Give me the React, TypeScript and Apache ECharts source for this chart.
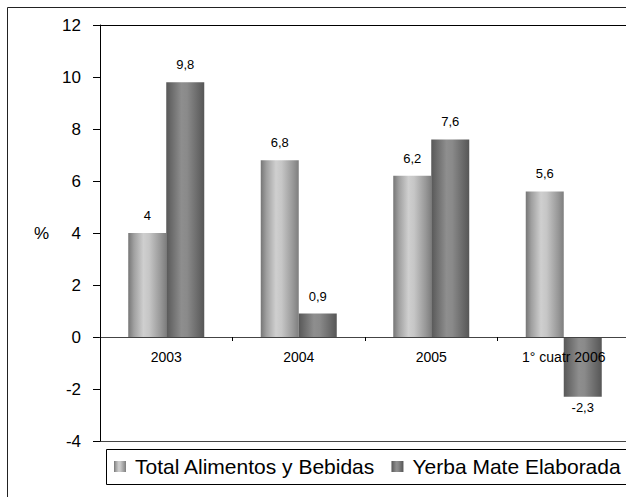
import React, { useEffect, useRef } from "react";
import * as echarts from "echarts";

const categories = ["2003", "2004", "2005", "1° cuatr 2006"];
const totalAlimentos = [4, 6.8, 6.2, 5.6];
const yerbaMate = [9.8, 0.9, 7.6, -2.3];
const seriesNames = ["Total Alimentos y Bebidas", "Yerba Mate Elaborada"];

const FONT = "'Liberation Sans', Arial, sans-serif";

const fmt = (v: number) => String(v).replace(".", ",");

const lightGrad = () =>
  new echarts.graphic.LinearGradient(0, 0, 1, 0, [
    { offset: 0, color: "#767676" },
    { offset: 0.15, color: "#a0a0a0" },
    { offset: 0.4, color: "#cfcfcf" },
    { offset: 0.55, color: "#c6c6c6" },
    { offset: 0.85, color: "#989898" },
    { offset: 1, color: "#7e7e7e" },
  ]);

const darkGrad = () =>
  new echarts.graphic.LinearGradient(0, 0, 1, 0, [
    { offset: 0, color: "#585858" },
    { offset: 0.4, color: "#8e8e8e" },
    { offset: 0.55, color: "#8a8a8a" },
    { offset: 1, color: "#565656" },
  ]);

const makeData = (vals: number[]) =>
  vals.map((v) => ({
    value: v,
    label: { distance: v < 0 ? 4 : 11 },
  }));

const CHART_W = 640;
const CHART_H = 497;
const GRID_LEFT = 100;
const GRID_RIGHT_EDGE = 630;
const GRID_TOP = 25;
const GRID_BOTTOM = 56;
const Y_MIN = -4;
const Y_MAX = 12;
const LEGEND_LEFT = 106;
const LEGEND_TOP = 449;
const LEGEND_H = 35;

export default function App() {
  const ref = useRef<HTMLDivElement>(null);
  useEffect(() => {
    if (!ref.current) return;
    const chart = echarts.init(ref.current, null, { renderer: "svg" });
    const plotH = CHART_H - GRID_TOP - GRID_BOTTOM;
    const zeroOffset = -(plotH * (0 - Y_MIN)) / (Y_MAX - Y_MIN);
    const plotBottomY = CHART_H - GRID_BOTTOM;
    const labelCfg = {
      show: true,
      position: "outside",
      fontSize: 13,
      color: "#000",
      fontFamily: FONT,
      formatter: (p: any) => fmt(p.value),
    };
    chart.setOption({
      animation: false,
      backgroundColor: "#fff",
      textStyle: { fontFamily: FONT },
      graphic: [
        {
          type: "polyline",
          shape: { points: [[7.5, 900], [7.5, 7.5], [900, 7.5]] },
          style: { fill: "none", stroke: "#222", lineWidth: 1 },
          silent: true,
        },
        {
          type: "line",
          shape: { x1: GRID_LEFT, y1: GRID_TOP + 0.5, x2: 900, y2: GRID_TOP + 0.5 },
          style: { stroke: "#000", lineWidth: 1 },
          silent: true,
        },
        {
          type: "line",
          shape: { x1: GRID_LEFT, y1: plotBottomY + 0.5, x2: 900, y2: plotBottomY + 0.5 },
          style: { stroke: "#444", lineWidth: 1 },
          silent: true,
        },
        {
          type: "polyline",
          shape: {
            points: [
              [900, LEGEND_TOP + 0.5],
              [LEGEND_LEFT + 0.5, LEGEND_TOP + 0.5],
              [LEGEND_LEFT + 0.5, LEGEND_TOP + LEGEND_H + 0.5],
              [900, LEGEND_TOP + LEGEND_H + 0.5],
            ],
          },
          style: { fill: "none", stroke: "#000", lineWidth: 1 },
          silent: true,
        },
      ],
      grid: {
        left: GRID_LEFT,
        right: CHART_W - GRID_RIGHT_EDGE,
        top: GRID_TOP,
        bottom: GRID_BOTTOM,
        show: false,
      },
      legend: {
        left: LEGEND_LEFT,
        top: LEGEND_TOP,
        orient: "horizontal",
        padding: [7, 8, 7, 8],
        itemGap: 16,
        itemWidth: 12,
        itemHeight: 11,
        borderWidth: 0,
        icon: "rect",
        textStyle: { fontSize: 21, color: "#000", fontFamily: FONT, padding: [0, 0, 0, 4] },
        data: seriesNames,
      },
      xAxis: {
        type: "category",
        data: categories,
        z: 10,
        offset: zeroOffset,
        axisLine: { onZero: false, lineStyle: { color: "#444", width: 1 } },
        axisTick: { show: true, length: 4, lineStyle: { color: "#000" } },
        axisLabel: { fontSize: 14, color: "#000", margin: 13, fontFamily: FONT },
        splitLine: { show: false },
      },
      yAxis: {
        type: "value",
        min: Y_MIN,
        max: Y_MAX,
        interval: 2,
        name: "%",
        nameLocation: "middle",
        nameRotate: 0,
        nameGap: 51,
        nameTextStyle: { fontSize: 17, color: "#000", fontFamily: FONT },
        axisLine: { show: true, lineStyle: { color: "#000", width: 1 } },
        axisTick: { show: true, length: 7, inside: false, lineStyle: { color: "#000" } },
        axisLabel: { fontSize: 17, color: "#000", margin: 19, fontFamily: FONT },
        splitLine: { show: false },
      },
      series: [
        {
          name: seriesNames[0],
          type: "bar",
          barWidth: 38,
          barGap: "0%",
          itemStyle: { color: lightGrad() },
          label: labelCfg,
          data: makeData(totalAlimentos),
        },
        {
          name: seriesNames[1],
          type: "bar",
          barWidth: 38,
          barGap: "0%",
          itemStyle: { color: darkGrad() },
          label: labelCfg,
          data: makeData(yerbaMate),
        },
      ],
    });
    return () => chart.dispose();
  }, []);
  return (
    <div
      ref={ref}
      style={{ position: "fixed", left: 0, top: 0, width: CHART_W, height: CHART_H }}
    />
  );
}
